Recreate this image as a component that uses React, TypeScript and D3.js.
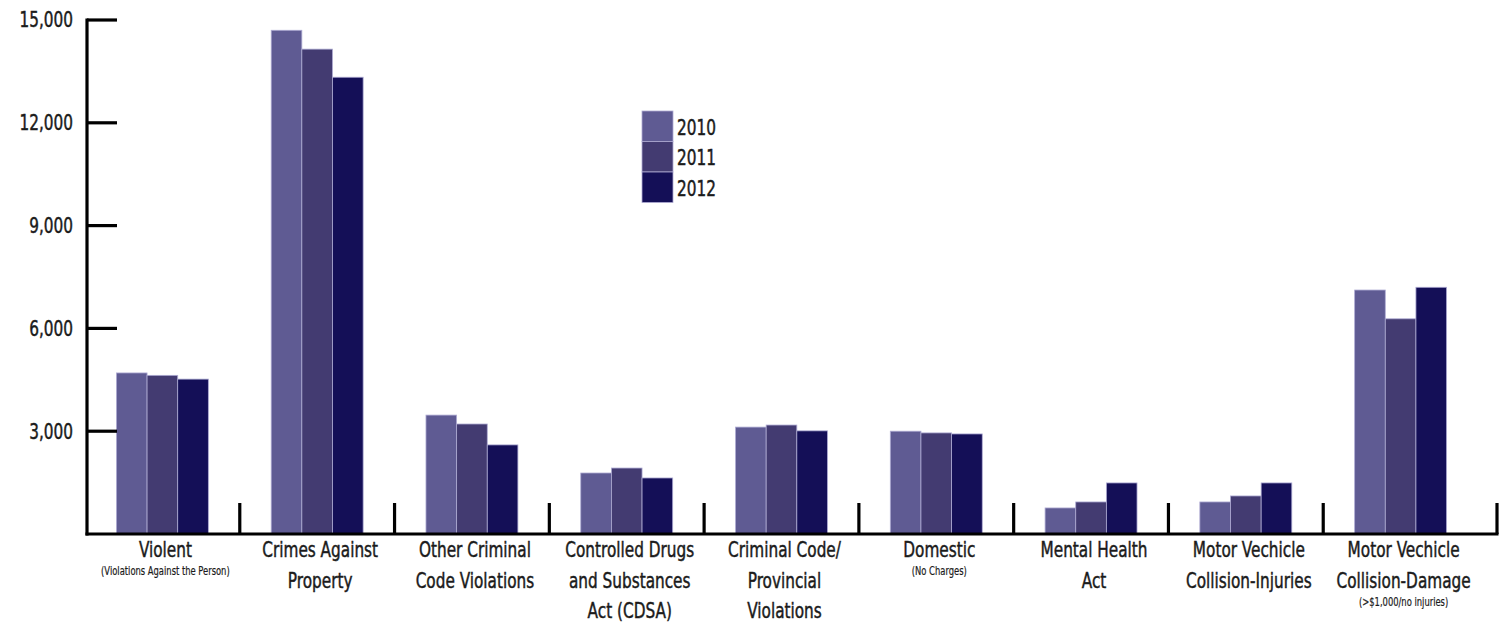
import React from 'react';
import * as d3 from 'd3';

const categoryLines: string[][] = [
  ['Violent'],
  ['Crimes Against', 'Property'],
  ['Other Criminal', 'Code Violations'],
  ['Controlled Drugs', 'and Substances', 'Act (CDSA)'],
  ['Criminal Code/', 'Provincial', 'Violations'],
  ['Domestic'],
  ['Mental Health', 'Act'],
  ['Motor Vechicle', 'Collision-Injuries'],
  ['Motor Vechicle', 'Collision-Damage'],
];
const categoryNotes: string[] = [
  '(Violations Against the Person)', '', '', '', '', '(No Charges)', '', '', '(>$1,000/no injuries)',
];
const years = ['2010', '2011', '2012'];
const values2010 = [4700, 14700, 3470, 1780, 3120, 3000, 760, 935, 7120];
const values2011 = [4630, 14150, 3210, 1925, 3180, 2950, 935, 1110, 6280];
const values2012 = [4520, 13330, 2600, 1635, 3010, 2920, 1490, 1490, 7200];
const yTicks = [3000, 6000, 9000, 12000, 15000];
const colors = ['#5f5b93', '#433b71', '#140f57'];

const W = 1512;
const H = 625;
const FONT = "'DejaVu Sans Condensed', 'Liberation Sans Narrow', sans-serif";
const SX = 0.81;
const textColor = '#1b1b1b';

function NText(props: { x: number; y: number; size: number; anchor?: string; children: React.ReactNode }) {
  const { x, y, size, anchor = 'middle', children } = props;
  return (
    <g transform={`translate(${x},${y}) scale(${SX},1)`}>
      <text
        x={0}
        y={0}
        dy="0.35em"
        textAnchor={anchor as any}
        fontSize={size}
        fill={textColor}
        stroke={textColor}
        strokeWidth={size > 15 ? 0.45 : 0.2}
      >
        {children}
      </text>
    </g>
  );
}

export default function App() {
  const series = [values2010, values2011, values2012];
  const idx = categoryLines.map((_, i) => String(i));
  const x0 = d3.scaleBand<string>().domain(idx).range([85, 1478]).padding(0);
  const bw = x0.bandwidth();
  const gw = bw * 0.594;
  const x1 = d3.scaleBand<string>().domain(years).range([bw / 2 - gw / 2, bw / 2 + gw / 2]).padding(0);
  const y = d3.scaleLinear().domain([0, 15000]).range([534, 20]);
  const axisX = 87;
  const axisEnd = 1497;

  const legendX = 642;
  const legendY = 111;
  const sw = 31;
  const sh = 30.5;

  const seps = idx.map((c, i) => (i === idx.length - 1 ? axisEnd : (x0(c) as number) + bw));

  return (
    <svg width={W} height={H} style={{ position: 'absolute', left: 0, top: 0, background: '#fff' }} fontFamily={FONT}>
      {/* bars */}
      {idx.map((c, ci) => (
        <g key={c} transform={`translate(${x0(c)},0)`}>
          {years.map((yr, si) => (
            <rect
              key={yr}
              x={x1(yr)}
              y={y(series[si][ci])}
              width={x1.bandwidth()}
              height={y(0) - y(series[si][ci])}
              fill={colors[si]}
              stroke="#aeabd3"
              strokeWidth={0.8}
            />
          ))}
        </g>
      ))}
      {/* y axis */}
      <line x1={axisX} x2={axisX} y1={y(15000) - 1.5} y2={y(0) + 1.5} stroke="#000" strokeWidth={3.2} />
      {yTicks.map((t) => (
        <g key={t}>
          <line x1={axisX} x2={axisX + 30} y1={y(t)} y2={y(t)} stroke="#000" strokeWidth={3.2} />
          <NText x={73} y={y(t)} size={21} anchor="end">
            {d3.format(',')(t)}
          </NText>
        </g>
      ))}
      {/* x baseline */}
      <line x1={axisX - 1.5} x2={axisEnd + 1.5} y1={y(0)} y2={y(0)} stroke="#000" strokeWidth={3.2} />
      {seps.map((s, i) => (
        <line key={'sep' + i} x1={s} x2={s} y1={503} y2={y(0)} stroke="#000" strokeWidth={3.2} />
      ))}
      {/* category labels */}
      {idx.map((c, ci) => {
        const cx = (x0(c) as number) + bw / 2 + 3;
        const lines = categoryLines[ci];
        return (
          <g key={'lab' + c}>
            {lines.map((l, li) => (
              <NText key={li} x={cx} y={550 + li * 30.5} size={21}>
                {l}
              </NText>
            ))}
            {categoryNotes[ci] && (
              <NText x={cx} y={550 + (lines.length - 1) * 30.5 + 21} size={11.5}>
                {categoryNotes[ci]}
              </NText>
            )}
          </g>
        );
      })}
      {/* legend */}
      {years.map((yr, i) => (
        <g key={'leg' + yr}>
          <rect x={legendX} y={legendY + i * sh} width={sw} height={sh} fill={colors[i]} stroke="#aeabd3" strokeWidth={0.8} />
          <NText x={legendX + sw + 4} y={legendY + i * sh + sh / 2 + 1} size={21} anchor="start">
            {yr}
          </NText>
        </g>
      ))}
    </svg>
  );
}
